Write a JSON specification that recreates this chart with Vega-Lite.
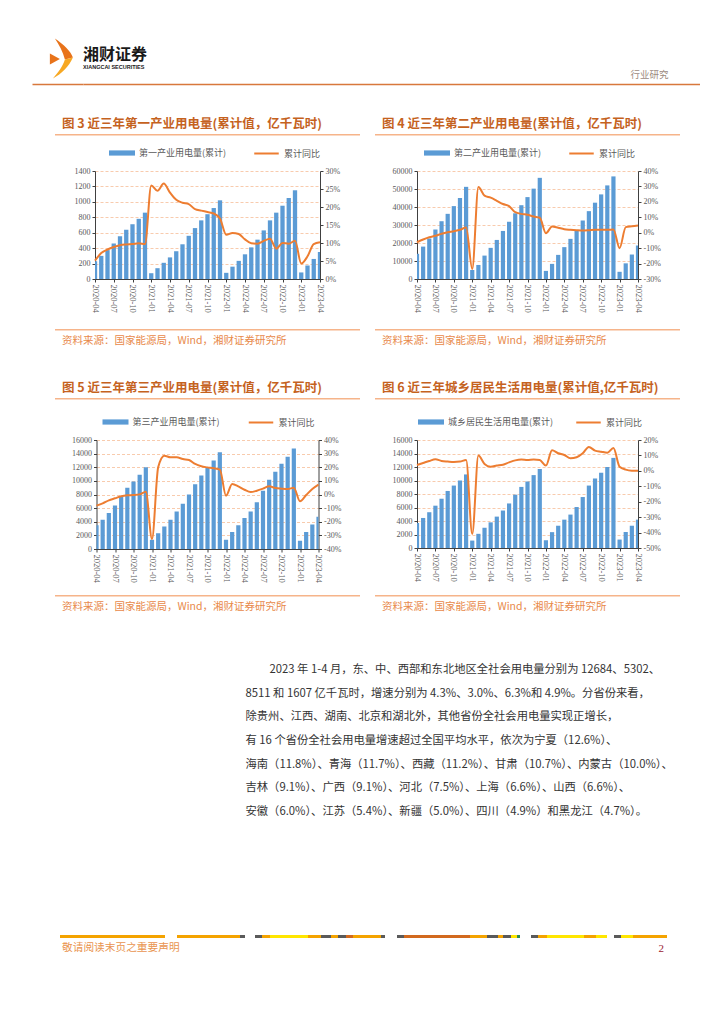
{
"$schema": "https://vega.github.io/schema/vega-lite/v6.json",
"padding": {"left": 32, "top": 38, "right": 0, "bottom": 0},
"autosize": {"type": "pad"},
"spacing": 0,
"resolve": {"scale": {"fill": "independent", "stroke": "independent"}, "legend": {"fill": "independent", "stroke": "independent"}},
"config": {
  "view": {"stroke": null},
  "axis": {"labelFont": "Liberation Serif", "labelFontSize": 8, "labelColor": "#595959", "domainColor": "#404040", "tickColor": "#404040", "tickSize": 3, "labelPadding": 2},
  "legend": {"labelFont": "Noto Sans CJK SC", "labelFontSize": 9, "labelColor": "#595959", "labelOffset": 4},
  "title": {"font": "Noto Sans CJK SC"}
},
"datasets": {
  "d1": [{"m":"2020-04","v":230,"g":0.051},{"m":"2020-05","v":300,"g":0.072},{"m":"2020-06","v":375,"g":0.082},{"m":"2020-07","v":460,"g":0.089},{"m":"2020-08","v":555,"g":0.094},{"m":"2020-09","v":640,"g":0.096},{"m":"2020-10","v":710,"g":0.097},{"m":"2020-11","v":780,"g":0.099},{"m":"2020-12","v":860,"g":0.097},{"m":"2021-01","v":75,"g":0.26},{"m":"2021-02","v":140,"g":0.245},{"m":"2021-03","v":210,"g":0.265},{"m":"2021-04","v":280,"g":0.24},{"m":"2021-05","v":360,"g":0.22},{"m":"2021-06","v":450,"g":0.212},{"m":"2021-07","v":560,"g":0.208},{"m":"2021-08","v":660,"g":0.194},{"m":"2021-09","v":760,"g":0.19},{"m":"2021-10","v":840,"g":0.186},{"m":"2021-11","v":920,"g":0.182},{"m":"2021-12","v":1020,"g":0.168},{"m":"2022-01","v":80,"g":0.123},{"m":"2022-02","v":160,"g":0.128},{"m":"2022-03","v":235,"g":0.125},{"m":"2022-04","v":320,"g":0.11},{"m":"2022-05","v":410,"g":0.099},{"m":"2022-06","v":510,"g":0.098},{"m":"2022-07","v":630,"g":0.106},{"m":"2022-08","v":760,"g":0.112},{"m":"2022-09","v":860,"g":0.084},{"m":"2022-10","v":950,"g":0.1},{"m":"2022-11","v":1050,"g":0.098},{"m":"2022-12","v":1150,"g":0.106},{"m":"2023-01","v":85,"g":0.043},{"m":"2023-02","v":175,"g":0.063},{"m":"2023-03","v":260,"g":0.097},{"m":"2023-04","v":350,"g":0.102}],
  "d2": [{"m":"2020-04","v":14000,"g":-0.062},{"m":"2020-05","v":18000,"g":-0.044},{"m":"2020-06","v":22500,"g":-0.029},{"m":"2020-07","v":27500,"g":-0.02},{"m":"2020-08","v":32100,"g":-0.007},{"m":"2020-09","v":36200,"g":0.003},{"m":"2020-10","v":40500,"g":0.01},{"m":"2020-11","v":45000,"g":0.019},{"m":"2020-12","v":51200,"g":0.034},{"m":"2021-01","v":5000,"g":-0.235},{"m":"2021-02","v":7800,"g":0.296},{"m":"2021-03","v":13000,"g":0.24},{"m":"2021-04","v":17300,"g":0.227},{"m":"2021-05","v":21700,"g":0.207},{"m":"2021-06","v":26700,"g":0.186},{"m":"2021-07","v":31800,"g":0.172},{"m":"2021-08","v":36500,"g":0.133},{"m":"2021-09","v":41000,"g":0.122},{"m":"2021-10","v":45500,"g":0.116},{"m":"2021-11","v":50200,"g":0.105},{"m":"2021-12","v":56200,"g":0.097},{"m":"2022-01","v":4500,"g":-0.003},{"m":"2022-02","v":8400,"g":0.04},{"m":"2022-03","v":13400,"g":0.032},{"m":"2022-04","v":17700,"g":0.023},{"m":"2022-05","v":22300,"g":0.019},{"m":"2022-06","v":27000,"g":0.016},{"m":"2022-07","v":32500,"g":0.014},{"m":"2022-08","v":37700,"g":0.016},{"m":"2022-09","v":42400,"g":0.019},{"m":"2022-10","v":47000,"g":0.019},{"m":"2022-11","v":52000,"g":0.019},{"m":"2022-12","v":57000,"g":0.021},{"m":"2023-01","v":4000,"g":-0.1},{"m":"2023-02","v":8700,"g":0.036},{"m":"2023-03","v":13600,"g":0.042},{"m":"2023-04","v":18600,"g":0.047}],
  "d3": [{"m":"2020-04","v":3470,"g":-0.082},{"m":"2020-05","v":4300,"g":-0.065},{"m":"2020-06","v":5300,"g":-0.043},{"m":"2020-07","v":6400,"g":-0.028},{"m":"2020-08","v":7700,"g":-0.013},{"m":"2020-09","v":9000,"g":-0.006},{"m":"2020-10","v":9900,"g":-0.004},{"m":"2020-11","v":10900,"g":0.001},{"m":"2020-12","v":12000,"g":0.021},{"m":"2021-01","v":1370,"g":-0.327},{"m":"2021-02","v":2300,"g":0.2},{"m":"2021-03","v":3300,"g":0.285},{"m":"2021-04","v":4300,"g":0.273},{"m":"2021-05","v":5500,"g":0.273},{"m":"2021-06","v":6650,"g":0.26},{"m":"2021-07","v":8000,"g":0.253},{"m":"2021-08","v":9500,"g":0.224},{"m":"2021-09","v":10800,"g":0.207},{"m":"2021-10","v":12000,"g":0.199},{"m":"2021-11","v":13000,"g":0.192},{"m":"2021-12","v":14200,"g":0.182},{"m":"2022-01","v":1370,"g":-0.009},{"m":"2022-02","v":2500,"g":0.077},{"m":"2022-03","v":3470,"g":0.06},{"m":"2022-04","v":4550,"g":0.035},{"m":"2022-05","v":5500,"g":0.018},{"m":"2022-06","v":6850,"g":0.028},{"m":"2022-07","v":8550,"g":0.043},{"m":"2022-08","v":10150,"g":0.06},{"m":"2022-09","v":11350,"g":0.048},{"m":"2022-10","v":12500,"g":0.043},{"m":"2022-11","v":13550,"g":0.04},{"m":"2022-12","v":14750,"g":0.05},{"m":"2023-01","v":1200,"g":-0.05},{"m":"2023-02","v":2500,"g":-0.004},{"m":"2023-03","v":3600,"g":0.04},{"m":"2023-04","v":4750,"g":0.072}],
  "d4": [{"m":"2020-04","v":3700,"g":0.038},{"m":"2020-05","v":4450,"g":0.051},{"m":"2020-06","v":5300,"g":0.064},{"m":"2020-07","v":6270,"g":0.075},{"m":"2020-08","v":7300,"g":0.064},{"m":"2020-09","v":8450,"g":0.06},{"m":"2020-10","v":9250,"g":0.057},{"m":"2020-11","v":10000,"g":0.06},{"m":"2020-12","v":10900,"g":0.07},{"m":"2021-01","v":1100,"g":-0.409},{"m":"2021-02","v":2100,"g":0.099},{"m":"2021-03","v":3000,"g":0.045},{"m":"2021-04","v":3800,"g":0.027},{"m":"2021-05","v":4650,"g":0.034},{"m":"2021-06","v":5550,"g":0.04},{"m":"2021-07","v":6600,"g":0.055},{"m":"2021-08","v":7900,"g":0.068},{"m":"2021-09","v":9050,"g":0.073},{"m":"2021-10","v":9850,"g":0.07},{"m":"2021-11","v":10800,"g":0.073},{"m":"2021-12","v":11700,"g":0.07},{"m":"2022-01","v":1150,"g":0.034},{"m":"2022-02","v":2350,"g":0.133},{"m":"2022-03","v":3300,"g":0.114},{"m":"2022-04","v":4200,"g":0.103},{"m":"2022-05","v":4950,"g":0.081},{"m":"2022-06","v":6070,"g":0.088},{"m":"2022-07","v":7550,"g":0.114},{"m":"2022-08","v":9250,"g":0.155},{"m":"2022-09","v":10300,"g":0.131},{"m":"2022-10","v":11150,"g":0.124},{"m":"2022-11","v":12000,"g":0.118},{"m":"2022-12","v":13350,"g":0.148},{"m":"2023-01","v":1250,"g":0.027},{"m":"2023-02","v":2370,"g":0.008},{"m":"2023-03","v":3300,"g":0.001},{"m":"2023-04","v":4200,"g":0.0}],
  "para": [{"i":1,"t":"2023 年 1-4 月，东、中、西部和东北地区全社会用电量分别为 12684、5302、"},{"i":2,"t":"8511 和 1607 亿千瓦时，增速分别为 4.3%、3.0%、6.3%和 4.9%。分省份来看，"},{"i":3,"t":"除贵州、江西、湖南、北京和湖北外，其他省份全社会用电量实现正增长，"},{"i":4,"t":"有 16 个省份全社会用电量增速超过全国平均水平，依次为宁夏（12.6%）、"},{"i":5,"t":"海南（11.8%）、青海（11.7%）、西藏（11.2%）、甘肃（10.7%）、内蒙古（10.0%）、"},{"i":6,"t":"吉林（9.1%）、广西（9.1%）、河北（7.5%）、上海（6.6%）、山西（6.6%）、"},{"i":7,"t":"安徽（6.0%）、江苏（5.4%）、新疆（5.0%）、四川（4.9%）和黑龙江（4.7%）。"}]
},
"vconcat": [
  {"hconcat": [
    {"width": 51, "height": 46, "data": {"values": [{}]},
     "encoding": {"x": {"datum": 0, "type": "quantitative", "scale": {"domain": [-1, 1]}, "axis": {"title": null, "labels": false, "ticks": false, "grid": false, "domainColor": "#D8783C", "domainWidth": 1.5}}},
     "layer": [
      {"mark": {"type": "point", "filled": true, "opacity": 1, "size": 1600, "color": "#E8731A", "strokeWidth": 0, "shape": "M-0.13,-1.12 C0.32,-0.82 0.67,-0.47 0.77,-0.17 L0.37,-0.07 C0.27,-0.47 0.07,-0.82 -0.13,-1.12 Z"}},
      {"mark": {"type": "point", "filled": true, "opacity": 1, "size": 1600, "color": "#F7A823", "strokeWidth": 0, "shape": "M0.37,-0.07 L0.77,-0.17 C0.57,0.28 0.22,0.63 -0.23,0.88 C0.02,0.58 0.27,0.28 0.37,-0.07 Z"}},
      {"mark": {"type": "point", "filled": true, "opacity": 1, "size": 1600, "color": "#E8731A", "strokeWidth": 0, "shape": "M-0.38,-0.37 L0.12,-0.1 L-0.38,0.18 Z"}}
     ]},
    {"width": 617, "height": 46, "data": {"values": []}, "mark": "point",
     "encoding": {"x": {"field": "a", "type": "quantitative", "scale": {"domain": [0, 1]}, "axis": {"title": "行业研究", "labels": false, "ticks": false, "grid": false, "domainColor": "#D8783C", "domainWidth": 1.5, "titleX": 585, "titleY": -5, "titleAlign": "right", "titleBaseline": "bottom", "titleFont": "Noto Sans CJK SC", "titleFontSize": 9.5, "titleFontWeight": "normal", "titleColor": "#9C8A7E"}}},
     "title": {"text": "湘财证券", "subtitle": "XIANGCAI SECURITIES", "orient": "top", "anchor": "start", "offset": -32, "fontSize": 16, "fontWeight": "bold", "color": "#1A1A1A", "subtitleFont": "Liberation Sans", "subtitleFontSize": 5.5, "subtitleFontWeight": "bold", "subtitleColor": "#1A1A1A", "subtitlePadding": 2}}
  ], "spacing": 0, "bounds": "flush"},
  {"width": 1, "height": 33, "data": {"values": []}, "mark": "point"},
  {"hconcat": [
    {"width": 23, "height": 1, "data": {"values": []}, "mark": "point"},
    {"vconcat": [
      {"width": 305, "height": 1.5, "data": {"values": []}, "mark": "point", "view": {"fill": "#F6B48A", "stroke": null},
       "title": {"text": "图 3 近三年第一产业用电量(累计值，亿千瓦时)", "anchor": "start", "dx": 7, "offset": 4, "fontSize": 12.5, "fontWeight": "bold", "color": "#C5621E"}},
      {"width": 1, "height": 35, "data": {"values": []}, "mark": "point"},
      {"width": 225, "height": 108, "data": {"name": "d1"},
       "layer": [
        {"mark": {"type": "bar", "size": 4.3, "clip": true},
         "encoding": {
          "x": {"field": "m", "type": "ordinal", "scale": {"type": "point", "padding": 0}, "axis": {"title": null, "values": ["2020-04","2020-07","2020-10","2021-01","2021-04","2021-07","2021-10","2022-01","2022-04","2022-07","2022-10","2023-01","2023-04"], "labelAngle": 90, "labelFontSize": 8.5}},
          "y": {"field": "v", "type": "quantitative", "scale": {"domain": [0, 1400], "nice": false}, "axis": {"title": null, "format": "d", "values": [0,200,400,600,800,1000,1200,1400], "grid": true, "gridColor": "#F8CBAD", "gridDash": [3,2]}},
          "fill": {"datum": "第一产业用电量(累计)", "scale": {"range": ["#5B9BD5"]}, "legend": {"title": null, "orient": "none", "legendX": 14, "legendY": -31, "symbolType": "M-1,-0.2L1,-0.2L1,0.2L-1,0.2Z", "symbolSize": 676, "symbolStrokeWidth": 0}}
         }},
        {"mark": {"type": "line", "strokeWidth": 2, "interpolate": "monotone"},
         "encoding": {
          "x": {"field": "m", "type": "ordinal", "scale": {"type": "point", "padding": 0}, "axis": {"title": null, "values": ["2020-04","2020-07","2020-10","2021-01","2021-04","2021-07","2021-10","2022-01","2022-04","2022-07","2022-10","2023-01","2023-04"], "labelAngle": 90, "labelFontSize": 8.5}},
          "y": {"field": "g", "type": "quantitative", "scale": {"domain": [0, 0.3], "nice": false}, "axis": {"title": null, "orient": "right", "values": [0,0.05,0.1,0.15,0.2,0.25,0.3], "format": ".0%", "grid": false}},
          "stroke": {"datum": "累计同比", "scale": {"range": ["#ED7D31"]}, "legend": {"title": null, "orient": "none", "legendX": 158, "legendY": -31, "symbolType": "stroke", "symbolSize": 600, "symbolStrokeWidth": 2}}
         }}
       ],
       "resolve": {"scale": {"y": "independent"}}},
      {"width": 1, "height": 49.5, "data": {"values": []}, "mark": "point"},
      {"width": 305, "height": 1.5, "data": {"values": []}, "mark": "point", "view": {"fill": "#F6B48A", "stroke": null},
       "title": {"text": "资料来源：国家能源局，Wind，湘财证券研究所", "orient": "bottom", "anchor": "start", "dx": 7, "offset": 5, "fontSize": 10.5, "fontWeight": "normal", "color": "#E8894A"}}
    ], "spacing": 0, "bounds": "flush", "center": true, "resolve": {"scale": {"fill": "independent", "stroke": "independent"}, "legend": {"fill": "independent", "stroke": "independent"}}},
    {"width": 15, "height": 1, "data": {"values": []}, "mark": "point"},
    {"vconcat": [
      {"width": 305, "height": 1.5, "data": {"values": []}, "mark": "point", "view": {"fill": "#F6B48A", "stroke": null},
       "title": {"text": "图 4 近三年第二产业用电量(累计值，亿千瓦时)", "anchor": "start", "dx": 7, "offset": 4, "fontSize": 12.5, "fontWeight": "bold", "color": "#C5621E"}},
      {"width": 1, "height": 35, "data": {"values": []}, "mark": "point"},
      {"width": 221, "height": 108, "data": {"name": "d2"},
       "layer": [
        {"mark": {"type": "bar", "size": 4.2, "clip": true},
         "encoding": {
          "x": {"field": "m", "type": "ordinal", "scale": {"type": "point", "padding": 0}, "axis": {"title": null, "values": ["2020-04","2020-07","2020-10","2021-01","2021-04","2021-07","2021-10","2022-01","2022-04","2022-07","2022-10","2023-01","2023-04"], "labelAngle": 90, "labelFontSize": 8.5}},
          "y": {"field": "v", "type": "quantitative", "scale": {"domain": [0, 60000], "nice": false}, "axis": {"title": null, "format": "d", "values": [0,10000,20000,30000,40000,50000,60000], "grid": true, "gridColor": "#F8CBAD", "gridDash": [3,2]}},
          "fill": {"datum": "第二产业用电量(累计)", "scale": {"range": ["#5B9BD5"]}, "legend": {"title": null, "orient": "none", "legendX": 7, "legendY": -31, "symbolType": "M-1,-0.2L1,-0.2L1,0.2L-1,0.2Z", "symbolSize": 676, "symbolStrokeWidth": 0}}
         }},
        {"mark": {"type": "line", "strokeWidth": 2, "interpolate": "monotone"},
         "encoding": {
          "x": {"field": "m", "type": "ordinal", "scale": {"type": "point", "padding": 0}, "axis": {"title": null, "values": ["2020-04","2020-07","2020-10","2021-01","2021-04","2021-07","2021-10","2022-01","2022-04","2022-07","2022-10","2023-01","2023-04"], "labelAngle": 90, "labelFontSize": 8.5}},
          "y": {"field": "g", "type": "quantitative", "scale": {"domain": [-0.3, 0.4], "nice": false}, "axis": {"title": null, "orient": "right", "values": [-0.3,-0.2,-0.1,0,0.1,0.2,0.3,0.4], "labelExpr": "replace(format(datum.value, '.0%'), '−', '-')", "grid": false}},
          "stroke": {"datum": "累计同比", "scale": {"range": ["#ED7D31"]}, "legend": {"title": null, "orient": "none", "legendX": 151, "legendY": -31, "symbolType": "stroke", "symbolSize": 600, "symbolStrokeWidth": 2}}
         }}
       ],
       "resolve": {"scale": {"y": "independent"}}},
      {"width": 1, "height": 49.5, "data": {"values": []}, "mark": "point"},
      {"width": 305, "height": 1.5, "data": {"values": []}, "mark": "point", "view": {"fill": "#F6B48A", "stroke": null},
       "title": {"text": "资料来源：国家能源局，Wind，湘财证券研究所", "orient": "bottom", "anchor": "start", "dx": 7, "offset": 5, "fontSize": 10.5, "fontWeight": "normal", "color": "#E8894A"}}
    ], "spacing": 0, "bounds": "flush", "center": true, "resolve": {"scale": {"fill": "independent", "stroke": "independent"}, "legend": {"fill": "independent", "stroke": "independent"}}}
  ], "spacing": 0, "resolve": {"scale": {"fill": "independent", "stroke": "independent"}, "legend": {"fill": "independent", "stroke": "independent"}}},
  {"width": 1, "height": 34.5, "data": {"values": []}, "mark": "point"},
  {"hconcat": [
    {"width": 23, "height": 1, "data": {"values": []}, "mark": "point"},
    {"vconcat": [
      {"width": 305, "height": 1.5, "data": {"values": []}, "mark": "point", "view": {"fill": "#F6B48A", "stroke": null},
       "title": {"text": "图 5 近三年第三产业用电量(累计值，亿千瓦时)", "anchor": "start", "dx": 7, "offset": 4, "fontSize": 12.5, "fontWeight": "bold", "color": "#C5621E"}},
      {"width": 1, "height": 40, "data": {"values": []}, "mark": "point"},
      {"width": 222, "height": 109, "data": {"name": "d3"},
       "layer": [
        {"mark": {"type": "bar", "size": 4.2, "clip": true},
         "encoding": {
          "x": {"field": "m", "type": "ordinal", "scale": {"type": "point", "padding": 0}, "axis": {"title": null, "values": ["2020-04","2020-07","2020-10","2021-01","2021-04","2021-07","2021-10","2022-01","2022-04","2022-07","2022-10","2023-01","2023-04"], "labelAngle": 90, "labelFontSize": 8.5}},
          "y": {"field": "v", "type": "quantitative", "scale": {"domain": [0, 16000], "nice": false}, "axis": {"title": null, "format": "d", "values": [0,2000,4000,6000,8000,10000,12000,14000,16000], "grid": true, "gridColor": "#F8CBAD", "gridDash": [3,2]}},
          "fill": {"datum": "第三产业用电量(累计)", "scale": {"range": ["#5B9BD5"]}, "legend": {"title": null, "orient": "none", "legendX": 6, "legendY": -31, "symbolType": "M-1,-0.2L1,-0.2L1,0.2L-1,0.2Z", "symbolSize": 676, "symbolStrokeWidth": 0}}
         }},
        {"mark": {"type": "line", "strokeWidth": 2, "interpolate": "monotone"},
         "encoding": {
          "x": {"field": "m", "type": "ordinal", "scale": {"type": "point", "padding": 0}, "axis": {"title": null, "values": ["2020-04","2020-07","2020-10","2021-01","2021-04","2021-07","2021-10","2022-01","2022-04","2022-07","2022-10","2023-01","2023-04"], "labelAngle": 90, "labelFontSize": 8.5}},
          "y": {"field": "g", "type": "quantitative", "scale": {"domain": [-0.4, 0.4], "nice": false}, "axis": {"title": null, "orient": "right", "values": [-0.4,-0.3,-0.2,-0.1,0,0.1,0.2,0.3,0.4], "labelExpr": "replace(format(datum.value, '.0%'), '−', '-')", "grid": false}},
          "stroke": {"datum": "累计同比", "scale": {"range": ["#ED7D31"]}, "legend": {"title": null, "orient": "none", "legendX": 151, "legendY": -31, "symbolType": "stroke", "symbolSize": 600, "symbolStrokeWidth": 2}}
         }}
       ],
       "resolve": {"scale": {"y": "independent"}}},
      {"width": 1, "height": 45.5, "data": {"values": []}, "mark": "point"},
      {"width": 305, "height": 1.5, "data": {"values": []}, "mark": "point", "view": {"fill": "#F6B48A", "stroke": null},
       "title": {"text": "资料来源：国家能源局，Wind，湘财证券研究所", "orient": "bottom", "anchor": "start", "dx": 7, "offset": 5, "fontSize": 10.5, "fontWeight": "normal", "color": "#E8894A"}}
    ], "spacing": 0, "bounds": "flush", "center": true, "resolve": {"scale": {"fill": "independent", "stroke": "independent"}, "legend": {"fill": "independent", "stroke": "independent"}}},
    {"width": 15, "height": 1, "data": {"values": []}, "mark": "point"},
    {"vconcat": [
      {"width": 305, "height": 1.5, "data": {"values": []}, "mark": "point", "view": {"fill": "#F6B48A", "stroke": null},
       "title": {"text": "图 6 近三年城乡居民生活用电量(累计值,亿千瓦时)", "anchor": "start", "dx": 7, "offset": 4, "fontSize": 12.5, "fontWeight": "bold", "color": "#C5621E"}},
      {"width": 1, "height": 40, "data": {"values": []}, "mark": "point"},
      {"width": 221, "height": 108, "data": {"name": "d4"},
       "layer": [
        {"mark": {"type": "bar", "size": 4.2, "clip": true},
         "encoding": {
          "x": {"field": "m", "type": "ordinal", "scale": {"type": "point", "padding": 0}, "axis": {"title": null, "values": ["2020-04","2020-07","2020-10","2021-01","2021-04","2021-07","2021-10","2022-01","2022-04","2022-07","2022-10","2023-01","2023-04"], "labelAngle": 90, "labelFontSize": 8.5}},
          "y": {"field": "v", "type": "quantitative", "scale": {"domain": [0, 16000], "nice": false}, "axis": {"title": null, "format": "d", "values": [0,2000,4000,6000,8000,10000,12000,14000,16000], "grid": true, "gridColor": "#F8CBAD", "gridDash": [3,2]}},
          "fill": {"datum": "城乡居民生活用电量(累计)", "scale": {"range": ["#5B9BD5"]}, "legend": {"title": null, "orient": "none", "legendX": 1, "legendY": -31, "symbolType": "M-1,-0.2L1,-0.2L1,0.2L-1,0.2Z", "symbolSize": 676, "symbolStrokeWidth": 0}}
         }},
        {"mark": {"type": "line", "strokeWidth": 2, "interpolate": "monotone"},
         "encoding": {
          "x": {"field": "m", "type": "ordinal", "scale": {"type": "point", "padding": 0}, "axis": {"title": null, "values": ["2020-04","2020-07","2020-10","2021-01","2021-04","2021-07","2021-10","2022-01","2022-04","2022-07","2022-10","2023-01","2023-04"], "labelAngle": 90, "labelFontSize": 8.5}},
          "y": {"field": "g", "type": "quantitative", "scale": {"domain": [-0.5, 0.2], "nice": false}, "axis": {"title": null, "orient": "right", "values": [-0.5,-0.4,-0.3,-0.2,-0.1,0,0.1,0.2], "labelExpr": "replace(format(datum.value, '.0%'), '−', '-')", "grid": false}},
          "stroke": {"datum": "累计同比", "scale": {"range": ["#ED7D31"]}, "legend": {"title": null, "orient": "none", "legendX": 158, "legendY": -31, "symbolType": "stroke", "symbolSize": 600, "symbolStrokeWidth": 2}}
         }}
       ],
       "resolve": {"scale": {"y": "independent"}}},
      {"width": 1, "height": 46.5, "data": {"values": []}, "mark": "point"},
      {"width": 305, "height": 1.5, "data": {"values": []}, "mark": "point", "view": {"fill": "#F6B48A", "stroke": null},
       "title": {"text": "资料来源：国家能源局，Wind，湘财证券研究所", "orient": "bottom", "anchor": "start", "dx": 7, "offset": 5, "fontSize": 10.5, "fontWeight": "normal", "color": "#E8894A"}}
    ], "spacing": 0, "bounds": "flush", "center": true, "resolve": {"scale": {"fill": "independent", "stroke": "independent"}, "legend": {"fill": "independent", "stroke": "independent"}}}
  ], "spacing": 0, "resolve": {"scale": {"fill": "independent", "stroke": "independent"}, "legend": {"fill": "independent", "stroke": "independent"}}},
  {"width": 1, "height": 52, "data": {"values": []}, "mark": "point"},
  {"hconcat": [
    {"width": 213, "height": 1, "data": {"values": []}, "mark": "point"},
    {"width": 1, "height": 142, "data": {"name": "para"},
     "encoding": {"y": {"field": "i", "type": "ordinal", "scale": {"type": "point", "padding": 0}, "axis": null}, "text": {"field": "t"}},
     "layer": [
      {"transform": [{"filter": "datum.i > 1"}], "mark": {"type": "text", "align": "left", "baseline": "middle", "fontSize": 11.3, "font": "Noto Sans CJK SC", "color": "#333333"}},
      {"transform": [{"filter": "datum.i == 1"}], "mark": {"type": "text", "align": "left", "baseline": "middle", "dx": 24, "fontSize": 11.3, "font": "Noto Sans CJK SC", "color": "#333333"}}
     ]}
  ], "spacing": 0, "bounds": "flush"},
  {"width": 1, "height": 117, "data": {"values": []}, "mark": "point"},
  {"hconcat": [
    {"width": 28, "height": 3, "data": {"values": []}, "mark": "point"},
    {"width": 105, "height": 3, "data": {"values": []}, "mark": "point", "view": {"fill": "#F4A300", "stroke": null},
     "title": {"text": "敬请阅读末页之重要声明", "orient": "bottom", "anchor": "start", "dx": 2, "offset": 5, "fontSize": 10.7, "fontWeight": "normal", "color": "#E9944F"}},
    {"width": 12, "height": 3, "data": {"values": []}, "mark": "point"},
    {"width": 63, "height": 3, "data": {"values": []}, "mark": "point", "view": {"fill": "#F4A300", "stroke": null}},
    {"width": 5, "height": 3, "data": {"values": []}, "mark": "point", "view": {"fill": "#5A5A5A", "stroke": null}},
    {"width": 10, "height": 3, "data": {"values": []}, "mark": "point"},
    {"width": 7, "height": 3, "data": {"values": []}, "mark": "point", "view": {"fill": "#5A5A5A", "stroke": null}},
    {"width": 8, "height": 3, "data": {"values": []}, "mark": "point", "view": {"fill": "#F4A300", "stroke": null}},
    {"width": 38, "height": 3, "data": {"values": []}, "mark": "point", "view": {"fill": "#FFE600", "stroke": null}},
    {"width": 13, "height": 3, "data": {"values": []}, "mark": "point", "view": {"fill": "#F4A300", "stroke": null}},
    {"width": 10, "height": 3, "data": {"values": []}, "mark": "point", "view": {"fill": "#5A5A5A", "stroke": null}},
    {"width": 7, "height": 3, "data": {"values": []}, "mark": "point", "view": {"fill": "#F4A300", "stroke": null}},
    {"width": 8, "height": 3, "data": {"values": []}, "mark": "point", "view": {"fill": "#5A5A5A", "stroke": null}},
    {"width": 7, "height": 3, "data": {"values": []}, "mark": "point", "view": {"fill": "#D2691E", "stroke": null}},
    {"width": 28, "height": 3, "data": {"values": []}, "mark": "point", "view": {"fill": "#F4A300", "stroke": null}},
    {"width": 4, "height": 3, "data": {"values": []}, "mark": "point", "view": {"fill": "#5A5A5A", "stroke": null}},
    {"width": 12, "height": 3, "data": {"values": []}, "mark": "point"},
    {"width": 7, "height": 3, "data": {"values": []}, "mark": "point", "view": {"fill": "#5A5A5A", "stroke": null}},
    {"width": 66, "height": 3, "data": {"values": []}, "mark": "point", "view": {"fill": "#D2691E", "stroke": null}},
    {"width": 17, "height": 3, "data": {"values": []}, "mark": "point", "view": {"fill": "#F4A300", "stroke": null}},
    {"width": 11, "height": 3, "data": {"values": []}, "mark": "point", "view": {"fill": "#5A5A5A", "stroke": null}},
    {"width": 5, "height": 3, "data": {"values": []}, "mark": "point", "view": {"fill": "#F4A300", "stroke": null}},
    {"width": 8, "height": 3, "data": {"values": []}, "mark": "point", "view": {"fill": "#5A5A5A", "stroke": null}},
    {"width": 6, "height": 3, "data": {"values": []}, "mark": "point", "view": {"fill": "#FFE600", "stroke": null}},
    {"width": 3, "height": 3, "data": {"values": []}, "mark": "point", "view": {"fill": "#2E8B57", "stroke": null}},
    {"width": 11, "height": 3, "data": {"values": []}, "mark": "point"},
    {"width": 7, "height": 3, "data": {"values": []}, "mark": "point", "view": {"fill": "#5A5A5A", "stroke": null}},
    {"width": 9, "height": 3, "data": {"values": []}, "mark": "point", "view": {"fill": "#F4A300", "stroke": null}},
    {"width": 37, "height": 3, "data": {"values": []}, "mark": "point", "view": {"fill": "#FFE600", "stroke": null}},
    {"width": 12, "height": 3, "data": {"values": []}, "mark": "point", "view": {"fill": "#F4A300", "stroke": null}},
    {"width": 11, "height": 3, "data": {"values": []}, "mark": "point", "view": {"fill": "#FFE600", "stroke": null}},
    {"width": 7, "height": 3, "data": {"values": []}, "mark": "point"},
    {"width": 7, "height": 3, "data": {"values": []}, "mark": "point", "view": {"fill": "#5A5A5A", "stroke": null}},
    {"width": 12, "height": 3, "data": {"values": []}, "mark": "point", "view": {"fill": "#FFE600", "stroke": null}},
    {"width": 34, "height": 3, "data": {"values": []}, "mark": "point", "view": {"fill": "#F4A300", "stroke": null},
     "title": {"text": "2", "orient": "bottom", "anchor": "end", "dx": -3, "offset": 5, "fontSize": 11, "font": "Liberation Serif", "fontWeight": "normal", "color": "#9B1B30"}}
  ], "spacing": 0, "bounds": "flush"}
]
}
